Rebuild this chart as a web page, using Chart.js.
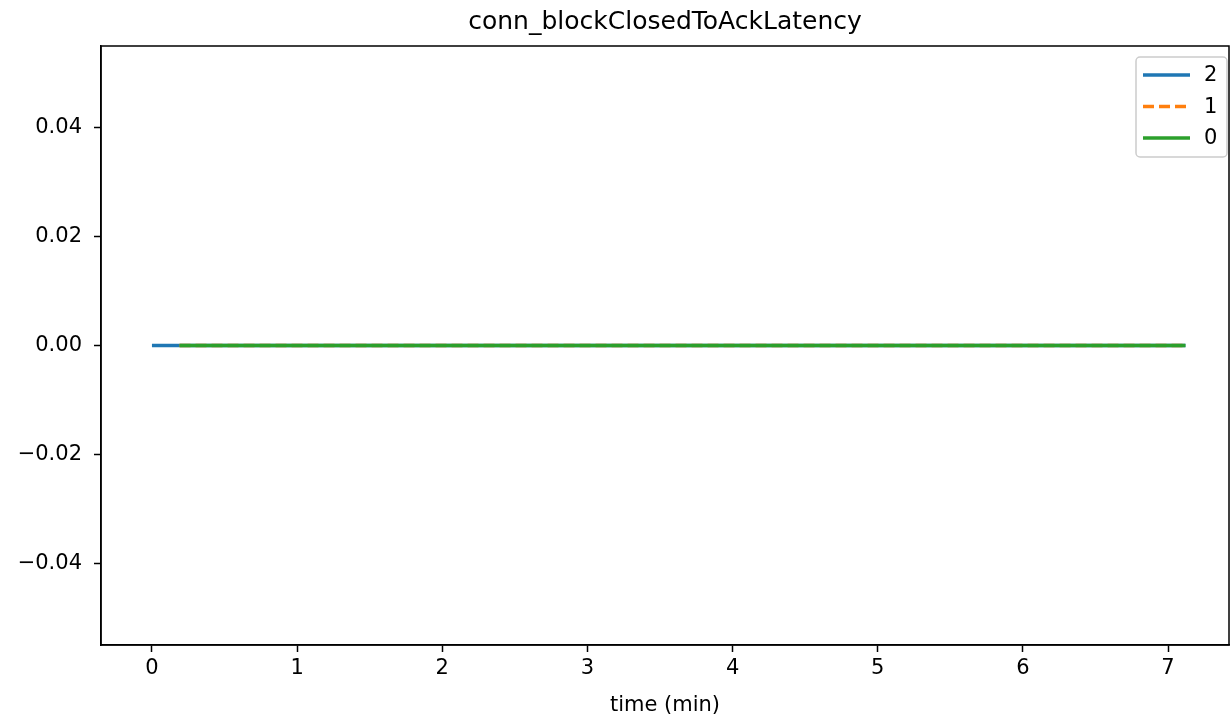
<!DOCTYPE html>
<html>
<head>
  <title>conn_blockClosedToAckLatency</title>
  <script src="https://cdn.jsdelivr.net/npm/chart.js"></script>
  <style>
    body { margin: 0; background: #fff; }
  </style>
</head>
<body>
<canvas id="latencyChart" width="1230" height="721"></canvas>

<script>
  // datos
  const chartTitle = 'conn_blockClosedToAckLatency';
  const seriesLabels = ['2', '1', '0'];
  const seriesColors = ['#1f77b4', '#ff7f0e', '#2ca02c'];
  const time2 = [0, 1, 2, 3, 4, 5, 6, 7, 7.12];
  const latency2 = [0, 0, 0, 0, 0, 0, 0, 0, 0];
  const time1 = [0.19, 1, 2, 3, 4, 5, 6, 7, 7.12];
  const latency1 = [0, 0, 0, 0, 0, 0, 0, 0, 0];
  const time0 = [0.19, 1, 2, 3, 4, 5, 6, 7, 7.12];
  const latency0 = [0, 0, 0, 0, 0, 0, 0, 0, 0];
  const xTicks = [0, 1, 2, 3, 4, 5, 6, 7];
  const yTicks = [-0.04, -0.02, 0, 0.02, 0.04];

  Chart.defaults.font.family = "'DejaVu Sans', sans-serif";
  Chart.defaults.font.size = 21;
  Chart.defaults.color = '#000';

  function toPoints(xs, ys) {
    return xs.map((x, i) => ({ x: x, y: ys[i] }));
  }

  // marco completo del area (arriba y derecha tambien) + titulo
  const framePlugin = {
    id: 'frame',
    afterDraw(chart) {
      const a = chart.chartArea;
      const ctx = chart.ctx;
      ctx.save();
      ctx.strokeStyle = '#000';
      ctx.lineWidth = 1.5;
      ctx.strokeRect(a.left, a.top, a.right - a.left, a.bottom - a.top);
      ctx.fillStyle = '#000';
      ctx.font = "25px 'DejaVu Sans', sans-serif";
      ctx.textAlign = 'center';
      ctx.textBaseline = 'middle';
      ctx.fillText(chartTitle, (a.left + a.right) / 2, 22);
      ctx.restore();
    }
  };

  // leyenda dentro del grafico, arriba a la derecha
  const legendPlugin = {
    id: 'boxLegend',
    afterDraw(chart) {
      const ctx = chart.ctx;
      const x0 = 1136, y0 = 57, w = 91, h = 100;
      ctx.save();
      ctx.fillStyle = 'rgba(255,255,255,0.8)';
      ctx.strokeStyle = '#cccccc';
      ctx.lineWidth = 1.5;
      ctx.beginPath();
      ctx.roundRect(x0, y0, w, h, 4);
      ctx.fill();
      ctx.stroke();
      ctx.font = "21px 'DejaVu Sans', sans-serif";
      chart.data.datasets.forEach((ds, i) => {
        const y = 75 + i * 31.5;
        ctx.strokeStyle = ds.borderColor;
        ctx.lineWidth = ds.borderWidth;
        ctx.setLineDash(ds.borderDash || []);
        ctx.beginPath();
        ctx.moveTo(1143, y);
        ctx.lineTo(1190, y);
        ctx.stroke();
        ctx.setLineDash([]);
        ctx.fillStyle = '#000';
        ctx.textAlign = 'left';
        ctx.textBaseline = 'middle';
        ctx.fillText(ds.label, 1204, y + 1);
      });
      ctx.restore();
    }
  };

  const ctx = document.getElementById('latencyChart').getContext('2d');
  const chart = new Chart(ctx, {
    type: 'line',
    data: {
      datasets: [
        { label: seriesLabels[0], data: toPoints(time2, latency2), borderColor: seriesColors[0], borderWidth: 3.5, order: 2 },
        { label: seriesLabels[1], data: toPoints(time1, latency1), borderColor: seriesColors[1], borderWidth: 3.5, borderDash: [11, 5], order: 1 },
        { label: seriesLabels[2], data: toPoints(time0, latency0), borderColor: seriesColors[2], borderWidth: 3.5, order: 0 }
      ]
    },
    options: {
      responsive: false,
      animation: false,
      elements: { point: { radius: 0 }, line: { tension: 0 } },
      layout: { padding: { top: 46, right: 1, left: 0, bottom: 0 } },
      plugins: {
        legend: { display: false },
        title: { display: false },
        tooltip: { enabled: false }
      },
      scales: {
        x: {
          type: 'linear',
          min: -0.351,
          max: 7.42,
          afterBuildTicks: (scale) => { scale.ticks = xTicks.map(v => ({ value: v })); },
          afterFit: (scale) => { scale.height = 76; },
          ticks: { padding: 4, maxRotation: 0, callback: (v) => String(v) },
          grid: { display: true, drawOnChartArea: false, drawTicks: true, tickLength: 7, tickColor: '#000', tickWidth: 1.5 },
          border: { display: true, color: '#000', width: 1.5 },
          title: { display: true, text: 'time (min)', padding: { top: 0, bottom: 3 } }
        },
        y: {
          type: 'linear',
          min: -0.055,
          max: 0.055,
          afterBuildTicks: (scale) => { scale.ticks = yTicks.map(v => ({ value: v })); },
          afterFit: (scale) => { scale.width = 101; },
          ticks: {
            padding: 12,
            callback: (v) => (v < 0 ? '\u2212' : '') + Math.abs(v).toFixed(2)
          },
          grid: { display: true, drawOnChartArea: false, drawTicks: true, tickLength: 7, tickColor: '#000', tickWidth: 1.5 },
          border: { display: true, color: '#000', width: 1.5 }
        }
      }
    },
    plugins: [framePlugin, legendPlugin]
  });
</script>

</body>
</html>
